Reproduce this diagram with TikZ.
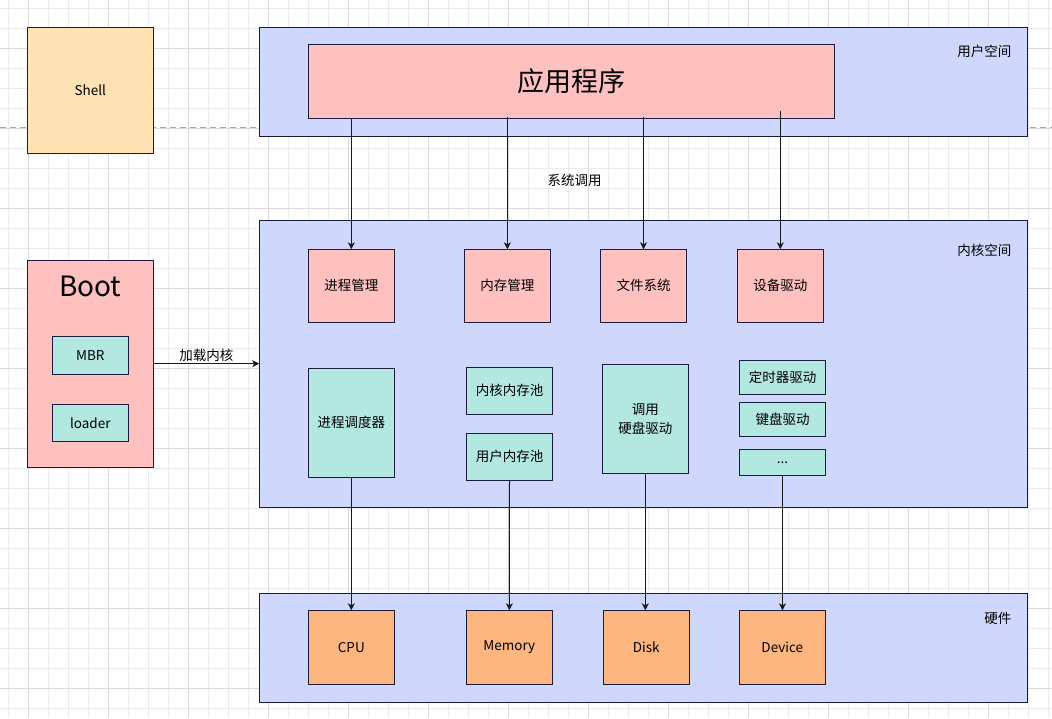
\documentclass[tikz,border=0pt]{standalone}
\usepackage{fontspec}
\setmainfont{Noto Sans CJK SC}
\usepackage{tikz}
\usetikzlibrary{arrows.meta}

\definecolor{edge}{HTML}{1B1B3F}
\definecolor{layerblue}{HTML}{D0D7FC}
\definecolor{boxpink}{HTML}{FFC0C0}
\definecolor{boxteal}{HTML}{B3E8E0}
\definecolor{boxorange}{HTML}{FDB680}
\definecolor{shellyellow}{HTML}{FEE2B3}
\newcommand{\txt}{\fontsize{13.5}{19}\selectfont}

\begin{document}
\begin{tikzpicture}[x=1pt, y=-1pt,
    box/.style={draw=edge, line width=1pt, inner sep=0pt, outer sep=0pt,
        align=center, font=\txt},
    layer/.style={box, fill=layerblue, minimum width=768, minimum height=109},
    pinkbox/.style={box, fill=boxpink},
    tealbox/.style={box, fill=boxteal},
    hwbox/.style={box, fill=boxorange, minimum width=86, minimum height=74},
    arr/.style={-{Stealth[length=7pt, width=7pt, inset=2pt]}, line width=1pt, draw=black!90}]
    \useasboundingbox (0,0) rectangle (1052,718);
    % grid
    \foreach \x in {8,28,...,1048}
        \draw[black!8, line width=0.8pt] (\x,0) -- (\x,718);
    \foreach \y in {8,28,...,708}
        \draw[black!8, line width=0.8pt] (0,\y) -- (1052,\y);
    \foreach \x in {28,108,...,1028}
        \draw[black!14, line width=0.8pt] (\x,0) -- (\x,718);
    \foreach \y in {48,128,...,688}
        \draw[black!14, line width=0.8pt] (0,\y) -- (1052,\y);
    \draw[black!35, line width=0.8pt, dash pattern=on 6pt off 4pt] (0,127.3) -- (1052,127.3);

    % left side
    \node[box, fill=shellyellow, minimum width=126, minimum height=126] (shell) at (90.3,90.3) {Shell};
    \node[pinkbox, minimum width=126, minimum height=207] (boot) at (90.3,363.7) {};
    \node[font=\fontsize{28}{32}\selectfont] (boottitle) at (90.3,286.7) {Boot};
    \node[tealbox, minimum width=76, minimum height=37.6] (mbr) at (90.3,355.5) {MBR};
    \node[tealbox, minimum width=76, minimum height=37] (loader) at (90.3,422.8) {loader};

    % user space
    \node[layer] (user) at (643.3,81.7) {};
    \node[font=\txt, anchor=east] (userlabel) at (1015,51.7) {用户空间};
    \node[pinkbox, minimum width=526, minimum height=74, font=\fontsize{27}{32}\selectfont] (app) at (571.3,81.2) {应用程序};

    % kernel space
    \node[layer, minimum height=287] (kernel) at (643.2,363.7) {};
    \node[font=\txt, anchor=east] (kernellabel) at (1015,250) {内核空间};
    \node[pinkbox, minimum width=86, minimum height=73] (procmgr) at (351.3,285.8) {进程管理};
    \node[pinkbox, minimum width=86, minimum height=73] (memmgr) at (507.4,285.8) {内存管理};
    \node[pinkbox, minimum width=86, minimum height=73] (fs) at (643.5,285.8) {文件系统};
    \node[pinkbox, minimum width=86, minimum height=73] (devdrv) at (780.3,285.8) {设备驱动};
    \node[tealbox, minimum width=86, minimum height=108.7] (sched) at (351.3,422.7) {进程调度器};
    \node[tealbox, minimum width=85.6, minimum height=47] (kpool) at (509.5,390.8) {内核内存池};
    \node[tealbox, minimum width=85.6, minimum height=47] (upool) at (509.5,456.8) {用户内存池};
    \node[tealbox, minimum width=86, minimum height=109] (diskdrv) at (645.3,418.8) {调用\\硬盘驱动};
    \node[tealbox, minimum width=86.4, minimum height=34] (timer) at (782.5,377.3) {定时器驱动};
    \node[tealbox, minimum width=86.4, minimum height=34] (kbd) at (782.5,419.3) {键盘驱动};
    \node[tealbox, minimum width=86.4, minimum height=26] (more) at (782.5,462.3) {...};

    % hardware
    \node[layer] (hw) at (643.3,647.8) {};
    \node[font=\txt, anchor=east] (hwlabel) at (1015,618.3) {硬件};
    \node[hwbox] (cpu) at (351.3,647.3) {CPU};
    \node[hwbox] (mem) at (509.3,647.3) {Memory};
    \node[hwbox] (disk) at (646.3,647.3) {Disk};
    \node[hwbox] (dev) at (782.3,647.3) {Device};

    % arrows
    \draw[arr] (boot.east) -- (kernel.west) node[midway, above, font=\txt, inner sep=1.5pt] {加载内核};
    \draw[arr] (procmgr.north |- app.south) -- (procmgr.north);
    \draw[arr] ([yshift=1.5pt]memmgr.north |- app.south) -- (memmgr.north);
    \draw[arr] ([yshift=1.5pt]fs.north |- app.south) -- (fs.north);
    \draw[arr] ([yshift=7pt]devdrv.north |- app.south) -- (devdrv.north);
    \node[font=\txt] (syscall) at (574.5,180) {系统调用};
    \draw[arr] (sched.south) -- (cpu.north);
    \draw[arr] (upool.south) -- (mem.north);
    \draw[arr] (diskdrv.south) -- (diskdrv.south |- disk.north);
    \draw[arr] (more.south) -- (more.south |- dev.north);
\end{tikzpicture}
\end{document}
